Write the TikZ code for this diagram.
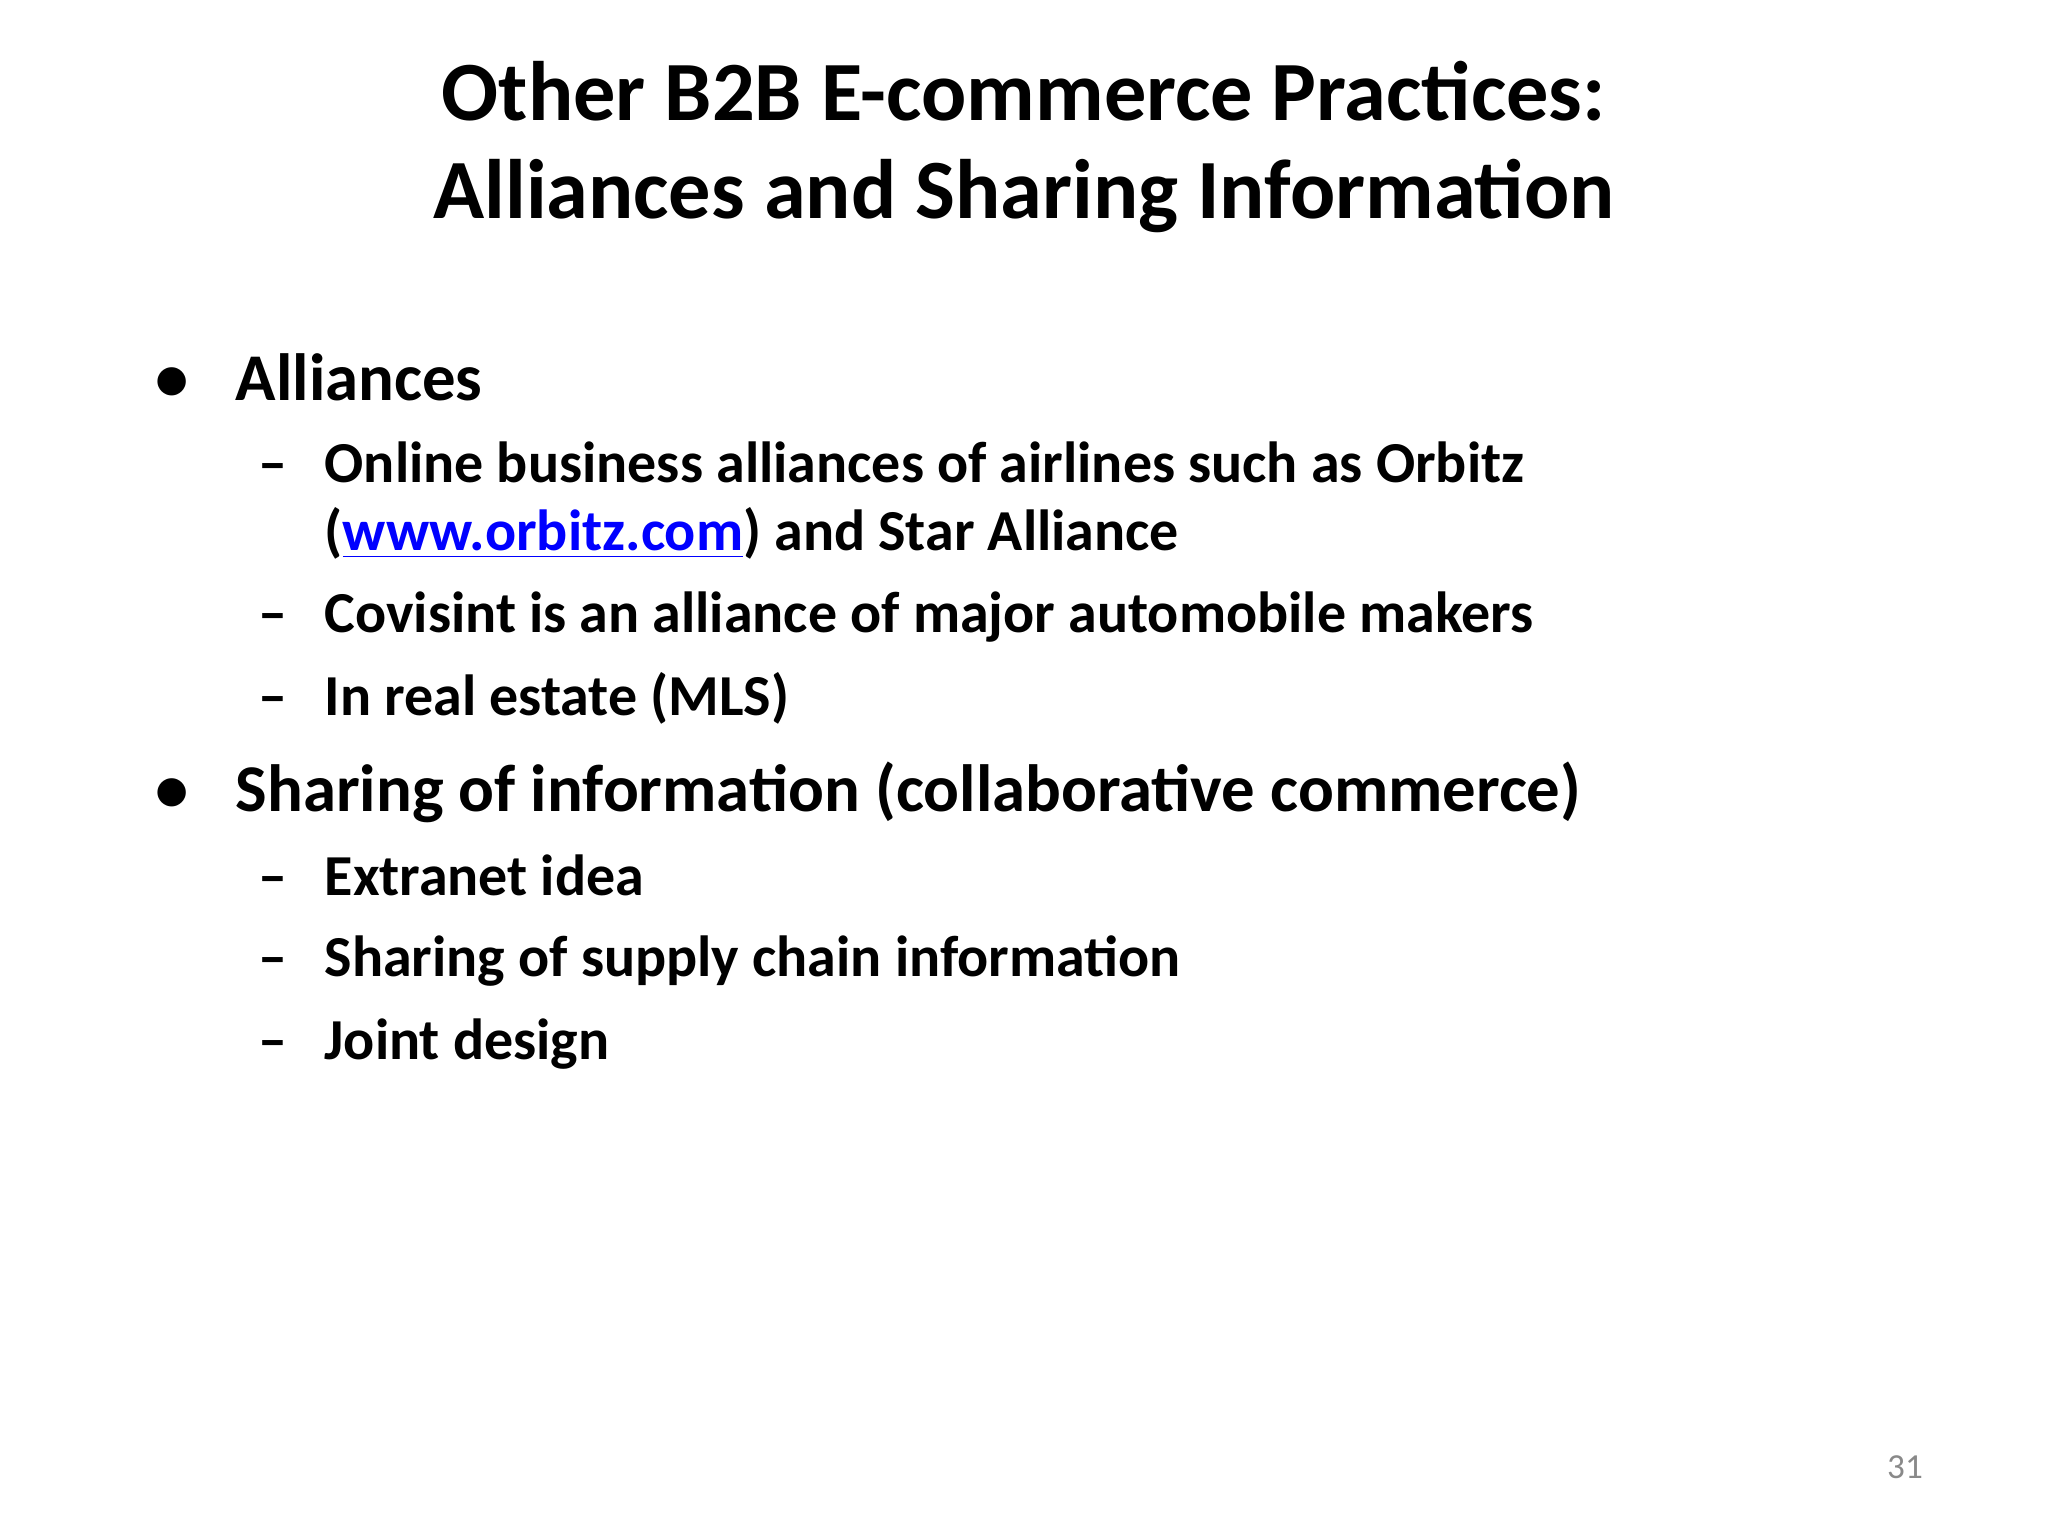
\documentclass[tikz,border=0pt]{standalone}
\usepackage{fontspec}
\setmainfont{Carlito}
\usepackage{xcolor}
\definecolor{linkblue}{RGB}{0,0,255}
\definecolor{pgnum}{RGB}{137,137,137}
\begin{document}
\begin{tikzpicture}[x=1cm,y=1cm,
  ttl/.style={anchor=base,font=\fontsize{24}{28}\selectfont\bfseries,inner sep=0},
  lone/.style={anchor=base west,font=\fontsize{19}{23}\selectfont\bfseries,inner sep=0},
  ltwo/.style={anchor=base west,font=\fontsize{16.5}{20}\selectfont\bfseries,inner sep=0}]
\useasboundingbox (0,0) rectangle (20.48,-15.36);
\node[ttl] (t1) at (10.24,-1.21) {Other B2B E-commerce Practices:};
\node[ttl] (t2) at (10.24,-2.19) {Alliances and Sharing Information};
\node[lone] (b1) at (1.55,-4.01) {•};
\node[lone] (a) at (2.35,-4.01) {Alliances};
\node[ltwo] (d1) at (2.58,-4.83) {–};
\node[ltwo] (a1) at (3.24,-4.83) {Online business alliances of airlines such as Orbitz};
\node[ltwo] (a1b) at (3.24,-5.51) {(\textcolor{linkblue}{\underline{www.orbitz.com}}) and Star Alliance};
\node[ltwo] (d2) at (2.58,-6.33) {–};
\node[ltwo] (a2) at (3.24,-6.33) {Covisint is an alliance of major automobile makers};
\node[ltwo] (d3) at (2.58,-7.16) {–};
\node[ltwo] (a3) at (3.24,-7.16) {In real estate (MLS)};
\node[lone] (b2) at (1.55,-8.12) {•};
\node[lone] (s) at (2.35,-8.12) {Sharing of information (collaborative commerce)};
\node[ltwo] (d4) at (2.58,-8.95) {–};
\node[ltwo] (s1) at (3.24,-8.95) {Extranet idea};
\node[ltwo] (d5) at (2.58,-9.77) {–};
\node[ltwo] (s2) at (3.24,-9.77) {Sharing of supply chain information};
\node[ltwo] (d6) at (2.58,-10.59) {–};
\node[ltwo] (s3) at (3.24,-10.59) {Joint design};
\node[anchor=base,font=\fontsize{10}{12}\selectfont,text=pgnum,inner sep=0] (pn) at (19.05,-14.78) {31};
\end{tikzpicture}
\end{document}
